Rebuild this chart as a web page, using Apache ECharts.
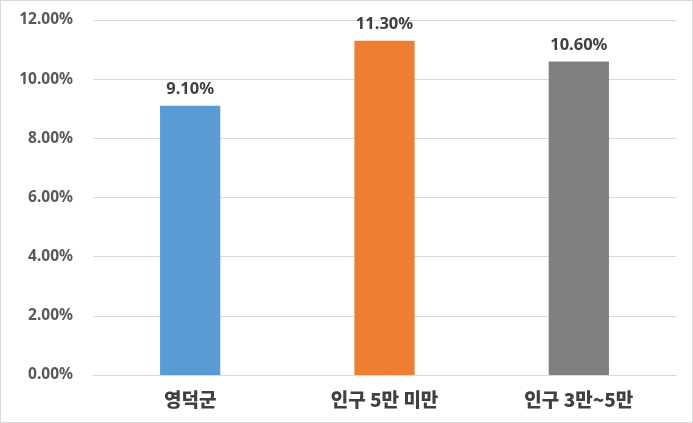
<!DOCTYPE html>
<html>
<head>
<meta charset="utf-8">
<script src="https://cdn.jsdelivr.net/npm/echarts@6/dist/echarts.min.js"></script>
<style>
  html, body { margin: 0; padding: 0; background: #fff; }
  #chart { width: 691px; height: 421px; border: 1px solid #d9d9d9; }
</style>
</head>
<body>
<div id="chart"></div>
<script>
var categories = ['영덕군', '인구 5만 미만', '인구 3만~5만'];
var values = [9.10, 11.30, 10.60];
var barColors = ['#5B9BD5', '#ED7D31', '#7F7F7F'];

var chart = echarts.init(document.getElementById('chart'));

var seriesData = [];
for (var i = 0; i < values.length; i++) {
  seriesData.push({ value: values[i], itemStyle: { color: barColors[i] } });
}

chart.setOption({
  animation: false,
  grid: { left: 92, right: 16, top: 19, bottom: 47 },
  xAxis: {
    type: 'category',
    data: categories,
    axisLine: { lineStyle: { color: '#d9d9d9' } },
    axisTick: { show: false },
    axisLabel: {
      margin: 15,
      fontSize: 19,
      fontWeight: 900,
      color: '#404040',
      fontFamily: 'Noto Sans CJK KR'
    }
  },
  yAxis: {
    type: 'value',
    min: 0,
    max: 12,
    interval: 2,
    axisLine: { show: false },
    axisTick: { show: false },
    splitLine: { lineStyle: { color: '#d9d9d9' } },
    axisLabel: {
      margin: 20,
      fontSize: 15.5,
      fontWeight: 'bold',
      color: '#595959',
      fontFamily: 'Noto Sans',
      formatter: function (v) { return v.toFixed(2) + '%'; }
    }
  },
  series: [{
    type: 'bar',
    data: seriesData,
    barWidth: '31%',
    label: {
      show: true,
      position: 'top',
      distance: 8,
      fontSize: 16.5,
      fontWeight: 'bold',
      color: '#404040',
      fontFamily: 'Noto Sans',
      formatter: function (p) { return p.value.toFixed(2) + '%'; }
    }
  }]
});
</script>
</body>
</html>
